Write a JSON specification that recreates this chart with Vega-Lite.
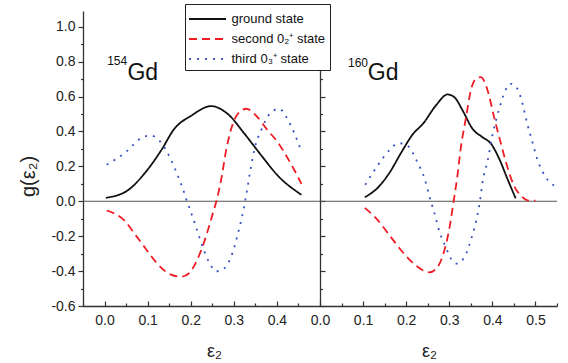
{
  "$schema": "https://vega.github.io/schema/vega-lite/v6.json",
  "autosize": {"type": "pad"},
  "padding": {"left": 18, "top": 3, "right": 11, "bottom": 0},
  "spacing": 0,
  "bounds": "flush",
  "config": {
    "view": {"stroke": null},
    "concat": {"spacing": 0},
    "font": "Liberation Sans",
    "locale": {"number": {"decimal": ".", "thousands": ",", "grouping": [3], "currency": ["$", ""], "minus": "-"}},
    "axis": {
      "domainColor": "#333", "domainWidth": 1.3, "tickColor": "#333", "tickWidth": 1.2,
      "labelFont": "Liberation Sans", "labelFontSize": 14, "labelColor": "#222",
      "titleFont": "Liberation Sans", "titleFontWeight": "normal", "titleColor": "#222",
      "grid": false, "labelFlush": false, "labelOverlap": false, "labelBound": false, "tickCount": 100
    },
    "legend": {"labelFont": "Liberation Sans"}
  },
  "datasets": {
    "curves": [
      {"nucleus": "154Gd", "state": "ground state", "eps": 0.003, "g": 0.02},
      {"nucleus": "154Gd", "state": "ground state", "eps": 0.053, "g": 0.061},
      {"nucleus": "154Gd", "state": "ground state", "eps": 0.092, "g": 0.157},
      {"nucleus": "154Gd", "state": "ground state", "eps": 0.131, "g": 0.29},
      {"nucleus": "154Gd", "state": "ground state", "eps": 0.162, "g": 0.415},
      {"nucleus": "154Gd", "state": "ground state", "eps": 0.201, "g": 0.49},
      {"nucleus": "154Gd", "state": "ground state", "eps": 0.247, "g": 0.545},
      {"nucleus": "154Gd", "state": "ground state", "eps": 0.286, "g": 0.5},
      {"nucleus": "154Gd", "state": "ground state", "eps": 0.325, "g": 0.386},
      {"nucleus": "154Gd", "state": "ground state", "eps": 0.364, "g": 0.262},
      {"nucleus": "154Gd", "state": "ground state", "eps": 0.402, "g": 0.147},
      {"nucleus": "154Gd", "state": "ground state", "eps": 0.457, "g": 0.037},

      {"nucleus": "154Gd", "state": "second 0₂⁺ state", "eps": 0.005, "g": -0.053},
      {"nucleus": "154Gd", "state": "second 0₂⁺ state", "eps": 0.046, "g": -0.11},
      {"nucleus": "154Gd", "state": "second 0₂⁺ state", "eps": 0.073, "g": -0.197},
      {"nucleus": "154Gd", "state": "second 0₂⁺ state", "eps": 0.096, "g": -0.273},
      {"nucleus": "154Gd", "state": "second 0₂⁺ state", "eps": 0.123, "g": -0.359},
      {"nucleus": "154Gd", "state": "second 0₂⁺ state", "eps": 0.154, "g": -0.42},
      {"nucleus": "154Gd", "state": "second 0₂⁺ state", "eps": 0.178, "g": -0.432},
      {"nucleus": "154Gd", "state": "second 0₂⁺ state", "eps": 0.197, "g": -0.41},
      {"nucleus": "154Gd", "state": "second 0₂⁺ state", "eps": 0.216, "g": -0.33},
      {"nucleus": "154Gd", "state": "second 0₂⁺ state", "eps": 0.236, "g": -0.197},
      {"nucleus": "154Gd", "state": "second 0₂⁺ state", "eps": 0.251, "g": -0.072},
      {"nucleus": "154Gd", "state": "second 0₂⁺ state", "eps": 0.261, "g": 0.014},
      {"nucleus": "154Gd", "state": "second 0₂⁺ state", "eps": 0.271, "g": 0.128},
      {"nucleus": "154Gd", "state": "second 0₂⁺ state", "eps": 0.282, "g": 0.29},
      {"nucleus": "154Gd", "state": "second 0₂⁺ state", "eps": 0.294, "g": 0.415},
      {"nucleus": "154Gd", "state": "second 0₂⁺ state", "eps": 0.309, "g": 0.5},
      {"nucleus": "154Gd", "state": "second 0₂⁺ state", "eps": 0.329, "g": 0.53},
      {"nucleus": "154Gd", "state": "second 0₂⁺ state", "eps": 0.352, "g": 0.49},
      {"nucleus": "154Gd", "state": "second 0₂⁺ state", "eps": 0.379, "g": 0.405},
      {"nucleus": "154Gd", "state": "second 0₂⁺ state", "eps": 0.402, "g": 0.338},
      {"nucleus": "154Gd", "state": "second 0₂⁺ state", "eps": 0.426, "g": 0.243},
      {"nucleus": "154Gd", "state": "second 0₂⁺ state", "eps": 0.441, "g": 0.176},
      {"nucleus": "154Gd", "state": "second 0₂⁺ state", "eps": 0.457, "g": 0.1},

      {"nucleus": "154Gd", "state": "third 0₃⁺ state", "eps": 0.005, "g": 0.209},
      {"nucleus": "154Gd", "state": "third 0₃⁺ state", "eps": 0.046, "g": 0.275},
      {"nucleus": "154Gd", "state": "third 0₃⁺ state", "eps": 0.085, "g": 0.361},
      {"nucleus": "154Gd", "state": "third 0₃⁺ state", "eps": 0.106, "g": 0.377},
      {"nucleus": "154Gd", "state": "third 0₃⁺ state", "eps": 0.127, "g": 0.348},
      {"nucleus": "154Gd", "state": "third 0₃⁺ state", "eps": 0.152, "g": 0.249},
      {"nucleus": "154Gd", "state": "third 0₃⁺ state", "eps": 0.17, "g": 0.147},
      {"nucleus": "154Gd", "state": "third 0₃⁺ state", "eps": 0.185, "g": 0.048},
      {"nucleus": "154Gd", "state": "third 0₃⁺ state", "eps": 0.192, "g": -0.006},
      {"nucleus": "154Gd", "state": "third 0₃⁺ state", "eps": 0.199, "g": -0.053},
      {"nucleus": "154Gd", "state": "third 0₃⁺ state", "eps": 0.213, "g": -0.153},
      {"nucleus": "154Gd", "state": "third 0₃⁺ state", "eps": 0.226, "g": -0.25},
      {"nucleus": "154Gd", "state": "third 0₃⁺ state", "eps": 0.243, "g": -0.35},
      {"nucleus": "154Gd", "state": "third 0₃⁺ state", "eps": 0.259, "g": -0.401},
      {"nucleus": "154Gd", "state": "third 0₃⁺ state", "eps": 0.278, "g": -0.384},
      {"nucleus": "154Gd", "state": "third 0₃⁺ state", "eps": 0.298, "g": -0.288},
      {"nucleus": "154Gd", "state": "third 0₃⁺ state", "eps": 0.309, "g": -0.191},
      {"nucleus": "154Gd", "state": "third 0₃⁺ state", "eps": 0.319, "g": -0.088},
      {"nucleus": "154Gd", "state": "third 0₃⁺ state", "eps": 0.327, "g": 0.01},
      {"nucleus": "154Gd", "state": "third 0₃⁺ state", "eps": 0.337, "g": 0.157},
      {"nucleus": "154Gd", "state": "third 0₃⁺ state", "eps": 0.348, "g": 0.3},
      {"nucleus": "154Gd", "state": "third 0₃⁺ state", "eps": 0.364, "g": 0.41},
      {"nucleus": "154Gd", "state": "third 0₃⁺ state", "eps": 0.383, "g": 0.5},
      {"nucleus": "154Gd", "state": "third 0₃⁺ state", "eps": 0.405, "g": 0.53},
      {"nucleus": "154Gd", "state": "third 0₃⁺ state", "eps": 0.422, "g": 0.482},
      {"nucleus": "154Gd", "state": "third 0₃⁺ state", "eps": 0.441, "g": 0.386},
      {"nucleus": "154Gd", "state": "third 0₃⁺ state", "eps": 0.457, "g": 0.285},

      {"nucleus": "160Gd", "state": "ground state", "eps": 0.104, "g": 0.023},
      {"nucleus": "160Gd", "state": "ground state", "eps": 0.135, "g": 0.08},
      {"nucleus": "160Gd", "state": "ground state", "eps": 0.162, "g": 0.166},
      {"nucleus": "160Gd", "state": "ground state", "eps": 0.189, "g": 0.281},
      {"nucleus": "160Gd", "state": "ground state", "eps": 0.216, "g": 0.386},
      {"nucleus": "160Gd", "state": "ground state", "eps": 0.239, "g": 0.444},
      {"nucleus": "160Gd", "state": "ground state", "eps": 0.269, "g": 0.549},
      {"nucleus": "160Gd", "state": "ground state", "eps": 0.296, "g": 0.612},
      {"nucleus": "160Gd", "state": "ground state", "eps": 0.312, "g": 0.596},
      {"nucleus": "160Gd", "state": "ground state", "eps": 0.331, "g": 0.52},
      {"nucleus": "160Gd", "state": "ground state", "eps": 0.354, "g": 0.415},
      {"nucleus": "160Gd", "state": "ground state", "eps": 0.377, "g": 0.367},
      {"nucleus": "160Gd", "state": "ground state", "eps": 0.397, "g": 0.329},
      {"nucleus": "160Gd", "state": "ground state", "eps": 0.416, "g": 0.243},
      {"nucleus": "160Gd", "state": "ground state", "eps": 0.435, "g": 0.128},
      {"nucleus": "160Gd", "state": "ground state", "eps": 0.454, "g": 0.017},

      {"nucleus": "160Gd", "state": "second 0₂⁺ state", "eps": 0.104, "g": -0.038},
      {"nucleus": "160Gd", "state": "second 0₂⁺ state", "eps": 0.131, "g": -0.1},
      {"nucleus": "160Gd", "state": "second 0₂⁺ state", "eps": 0.162, "g": -0.197},
      {"nucleus": "160Gd", "state": "second 0₂⁺ state", "eps": 0.192, "g": -0.292},
      {"nucleus": "160Gd", "state": "second 0₂⁺ state", "eps": 0.223, "g": -0.369},
      {"nucleus": "160Gd", "state": "second 0₂⁺ state", "eps": 0.254, "g": -0.407},
      {"nucleus": "160Gd", "state": "second 0₂⁺ state", "eps": 0.269, "g": -0.388},
      {"nucleus": "160Gd", "state": "second 0₂⁺ state", "eps": 0.285, "g": -0.311},
      {"nucleus": "160Gd", "state": "second 0₂⁺ state", "eps": 0.3, "g": -0.158},
      {"nucleus": "160Gd", "state": "second 0₂⁺ state", "eps": 0.311, "g": 0.014},
      {"nucleus": "160Gd", "state": "second 0₂⁺ state", "eps": 0.318, "g": 0.13},
      {"nucleus": "160Gd", "state": "second 0₂⁺ state", "eps": 0.327, "g": 0.31},
      {"nucleus": "160Gd", "state": "second 0₂⁺ state", "eps": 0.339, "g": 0.482},
      {"nucleus": "160Gd", "state": "second 0₂⁺ state", "eps": 0.35, "g": 0.635},
      {"nucleus": "160Gd", "state": "second 0₂⁺ state", "eps": 0.362, "g": 0.702},
      {"nucleus": "160Gd", "state": "second 0₂⁺ state", "eps": 0.373, "g": 0.711},
      {"nucleus": "160Gd", "state": "second 0₂⁺ state", "eps": 0.389, "g": 0.635},
      {"nucleus": "160Gd", "state": "second 0₂⁺ state", "eps": 0.404, "g": 0.482},
      {"nucleus": "160Gd", "state": "second 0₂⁺ state", "eps": 0.42, "g": 0.329},
      {"nucleus": "160Gd", "state": "second 0₂⁺ state", "eps": 0.435, "g": 0.195},
      {"nucleus": "160Gd", "state": "second 0₂⁺ state", "eps": 0.45, "g": 0.09},
      {"nucleus": "160Gd", "state": "second 0₂⁺ state", "eps": 0.466, "g": 0.033},
      {"nucleus": "160Gd", "state": "second 0₂⁺ state", "eps": 0.485, "g": 0.004},
      {"nucleus": "160Gd", "state": "second 0₂⁺ state", "eps": 0.5, "g": 0.004},

      {"nucleus": "160Gd", "state": "third 0₃⁺ state", "eps": 0.105, "g": 0.094},
      {"nucleus": "160Gd", "state": "third 0₃⁺ state", "eps": 0.131, "g": 0.195},
      {"nucleus": "160Gd", "state": "third 0₃⁺ state", "eps": 0.162, "g": 0.295},
      {"nucleus": "160Gd", "state": "third 0₃⁺ state", "eps": 0.182, "g": 0.333},
      {"nucleus": "160Gd", "state": "third 0₃⁺ state", "eps": 0.202, "g": 0.32},
      {"nucleus": "160Gd", "state": "third 0₃⁺ state", "eps": 0.226, "g": 0.224},
      {"nucleus": "160Gd", "state": "third 0₃⁺ state", "eps": 0.243, "g": 0.128},
      {"nucleus": "160Gd", "state": "third 0₃⁺ state", "eps": 0.254, "g": 0.027},
      {"nucleus": "160Gd", "state": "third 0₃⁺ state", "eps": 0.266, "g": -0.072},
      {"nucleus": "160Gd", "state": "third 0₃⁺ state", "eps": 0.277, "g": -0.172},
      {"nucleus": "160Gd", "state": "third 0₃⁺ state", "eps": 0.293, "g": -0.269},
      {"nucleus": "160Gd", "state": "third 0₃⁺ state", "eps": 0.302, "g": -0.321},
      {"nucleus": "160Gd", "state": "third 0₃⁺ state", "eps": 0.318, "g": -0.357},
      {"nucleus": "160Gd", "state": "third 0₃⁺ state", "eps": 0.336, "g": -0.317},
      {"nucleus": "160Gd", "state": "third 0₃⁺ state", "eps": 0.351, "g": -0.215},
      {"nucleus": "160Gd", "state": "third 0₃⁺ state", "eps": 0.362, "g": -0.116},
      {"nucleus": "160Gd", "state": "third 0₃⁺ state", "eps": 0.37, "g": -0.019},
      {"nucleus": "160Gd", "state": "third 0₃⁺ state", "eps": 0.378, "g": 0.12},
      {"nucleus": "160Gd", "state": "third 0₃⁺ state", "eps": 0.389, "g": 0.233},
      {"nucleus": "160Gd", "state": "third 0₃⁺ state", "eps": 0.4, "g": 0.377},
      {"nucleus": "160Gd", "state": "third 0₃⁺ state", "eps": 0.416, "g": 0.53},
      {"nucleus": "160Gd", "state": "third 0₃⁺ state", "eps": 0.429, "g": 0.629},
      {"nucleus": "160Gd", "state": "third 0₃⁺ state", "eps": 0.443, "g": 0.673},
      {"nucleus": "160Gd", "state": "third 0₃⁺ state", "eps": 0.458, "g": 0.645},
      {"nucleus": "160Gd", "state": "third 0₃⁺ state", "eps": 0.47, "g": 0.558},
      {"nucleus": "160Gd", "state": "third 0₃⁺ state", "eps": 0.481, "g": 0.444},
      {"nucleus": "160Gd", "state": "third 0₃⁺ state", "eps": 0.493, "g": 0.338},
      {"nucleus": "160Gd", "state": "third 0₃⁺ state", "eps": 0.504, "g": 0.243},
      {"nucleus": "160Gd", "state": "third 0₃⁺ state", "eps": 0.524, "g": 0.138},
      {"nucleus": "160Gd", "state": "third 0₃⁺ state", "eps": 0.547, "g": 0.084}
    ],
    "labels": [
      {"nucleus": "154Gd", "part": "mass", "t": "154", "eps": 0.006, "g": 0.778},
      {"nucleus": "154Gd", "part": "sym", "t": "Gd", "eps": 0.053, "g": 0.696},
      {"nucleus": "160Gd", "part": "mass", "t": "160", "eps": 0.065, "g": 0.768},
      {"nucleus": "160Gd", "part": "sym", "t": "Gd", "eps": 0.111, "g": 0.692}
    ]
  },
  "hconcat": [
    {
      "width": 237,
      "height": 295,
      "layer": [
        {
          "mark": {"type": "rule", "color": "#555", "strokeWidth": 1.2},
          "data": {"values": [{}]},
          "encoding": {"y": {"datum": 0, "type": "quantitative"}}
        },
        {
          "data": {"name": "curves"},
          "transform": [{"filter": "datum.nucleus == '154Gd'"}],
          "mark": {"type": "line", "interpolate": "monotone", "strokeWidth": 1.8},
          "encoding": {
            "x": {
              "field": "eps", "type": "quantitative",
              "scale": {"domain": [-0.05, 0.5], "nice": false, "zero": false},
              "axis": {
                "values": [-0.05, 0, 0.05, 0.1, 0.15, 0.2, 0.25, 0.3, 0.35, 0.4, 0.45],
                "tickCount": 100,
                "labelExpr": "round(datum.value*20) % 2 == 0 ? format(datum.value, '.1f') : ''",
                "tickSize": -5,
                "tickDash": {"condition": {"test": "round(datum.value*20) % 2 != 0", "value": [3, 20]}, "value": [10, 0]},
                "labelPadding": 12, "labelOverlap": false,
                "title": "ε₂", "titleFontSize": 18, "titleX": 131, "titleY": 50,
                "titleBaseline": "alphabetic", "titleAlign": "center"
              }
            },
            "y": {
              "field": "g", "type": "quantitative",
              "scale": {"domain": [-0.6, 1.09], "nice": false, "zero": false},
              "axis": {
                "values": [-0.6, -0.5, -0.4, -0.3, -0.2, -0.1, 0, 0.1, 0.2, 0.3, 0.4, 0.5, 0.6, 0.7, 0.8, 0.9, 1.0],
                "tickCount": 100,
                "labelExpr": "round(datum.value*10) % 2 == 0 ? format(datum.value, '.1f') : ''",
                "tickSize": 5,
                "tickDash": {"condition": {"test": "round(datum.value*10) % 2 != 0", "value": [2.5, 20]}, "value": [10, 0]},
                "labelPadding": 3, "labelOverlap": false,
                "title": "g(ε₂)", "titleFontSize": 20, "titleX": -55, "titleY": 165,
                "titleAngle": -90, "titleBaseline": "middle", "titleAlign": "center"
              }
            },
            "color": {
              "field": "state", "type": "nominal",
              "scale": {"domain": ["ground state", "second 0₂⁺ state", "third 0₃⁺ state"], "range": ["#111111", "#ee1c25", "#3a50c0"]},
              "legend": {
                "orient": "none", "legendX": 102, "legendY": -7, "title": null,
                "symbolType": "M-1.85,0L1.85,0", "symbolSize": 400, "symbolStrokeWidth": 1.8,
                "symbolOffset": 7.5,
                "labelFontSize": 13, "labelOffset": 13, "padding": 4, "rowPadding": 2,
                "strokeColor": "#222", "fillColor": "white", "labelColor": "#111"
              }
            },
            "strokeDash": {
              "field": "state", "type": "nominal",
              "scale": {"domain": ["ground state", "second 0₂⁺ state", "third 0₃⁺ state"], "range": [[1, 0], [8, 5], [2, 6]]},
              "legend": {
                "orient": "none", "legendX": 102, "legendY": -7, "title": null,
                "symbolType": "M-1.85,0L1.85,0", "symbolSize": 400, "symbolStrokeWidth": 1.8,
                "symbolOffset": 7.5,
                "labelFontSize": 13, "labelOffset": 13, "padding": 4, "rowPadding": 2,
                "strokeColor": "#222", "fillColor": "white", "labelColor": "#111"
              }
            }
          }
        },
        {
          "data": {"name": "labels"},
          "transform": [{"filter": "datum.nucleus == '154Gd' && datum.part == 'mass'"}],
          "mark": {"type": "text", "align": "left", "baseline": "alphabetic", "fontSize": 12, "color": "#111"},
          "encoding": {
            "x": {"field": "eps", "type": "quantitative"},
            "y": {"field": "g", "type": "quantitative"},
            "text": {"field": "t"}
          }
        },
        {
          "data": {"name": "labels"},
          "transform": [{"filter": "datum.nucleus == '154Gd' && datum.part == 'sym'"}],
          "mark": {"type": "text", "align": "left", "baseline": "alphabetic", "fontSize": 23, "color": "#111"},
          "encoding": {
            "x": {"field": "eps", "type": "quantitative"},
            "y": {"field": "g", "type": "quantitative"},
            "text": {"field": "t"}
          }
        }
      ]
    },
    {
      "width": 237,
      "height": 295,
      "layer": [
        {
          "mark": {"type": "rule", "color": "#555", "strokeWidth": 1.2},
          "data": {"values": [{}]},
          "encoding": {"y": {"datum": 0, "type": "quantitative"}}
        },
        {
          "data": {"name": "curves"},
          "transform": [{"filter": "datum.nucleus == '160Gd'"}],
          "mark": {"type": "line", "interpolate": "monotone", "strokeWidth": 1.8},
          "encoding": {
            "x": {
              "field": "eps", "type": "quantitative",
              "scale": {"domain": [0, 0.55], "nice": false, "zero": false},
              "axis": {
                "values": [0, 0.05, 0.1, 0.15, 0.2, 0.25, 0.3, 0.35, 0.4, 0.45, 0.5, 0.55],
                "tickCount": 100,
                "labelExpr": "round(datum.value*20) % 2 == 0 ? format(datum.value, '.1f') : ''",
                "tickSize": -5,
                "tickDash": {"condition": {"test": "round(datum.value*20) % 2 != 0", "value": [3, 20]}, "value": [10, 0]},
                "labelPadding": 12, "labelOverlap": false,
                "title": "ε₂", "titleFontSize": 18, "titleX": 109, "titleY": 50,
                "titleBaseline": "alphabetic", "titleAlign": "center"
              }
            },
            "y": {
              "field": "g", "type": "quantitative",
              "scale": {"domain": [-0.6, 1.09], "nice": false, "zero": false},
              "axis": {
                "values": [-0.6, -0.5, -0.4, -0.3, -0.2, -0.1, 0, 0.1, 0.2, 0.3, 0.4, 0.5, 0.6, 0.7, 0.8, 0.9, 1.0],
                "tickCount": 100,
                "labels": false,
                "tickSize": -5,
                "tickDash": {"condition": {"test": "round(datum.value*10) % 2 != 0", "value": [2.5, 20]}, "value": [10, 0]},
                "title": null
              }
            },
            "color": {
              "field": "state", "type": "nominal",
              "scale": {"domain": ["ground state", "second 0₂⁺ state", "third 0₃⁺ state"], "range": ["#111111", "#ee1c25", "#3a50c0"]},
              "legend": null
            },
            "strokeDash": {
              "field": "state", "type": "nominal",
              "scale": {"domain": ["ground state", "second 0₂⁺ state", "third 0₃⁺ state"], "range": [[1, 0], [8, 5], [2, 6]]},
              "legend": null
            }
          }
        },
        {
          "data": {"name": "labels"},
          "transform": [{"filter": "datum.nucleus == '160Gd' && datum.part == 'mass'"}],
          "mark": {"type": "text", "align": "left", "baseline": "alphabetic", "fontSize": 12, "color": "#111"},
          "encoding": {
            "x": {"field": "eps", "type": "quantitative"},
            "y": {"field": "g", "type": "quantitative"},
            "text": {"field": "t"}
          }
        },
        {
          "data": {"name": "labels"},
          "transform": [{"filter": "datum.nucleus == '160Gd' && datum.part == 'sym'"}],
          "mark": {"type": "text", "align": "left", "baseline": "alphabetic", "fontSize": 23, "color": "#111"},
          "encoding": {
            "x": {"field": "eps", "type": "quantitative"},
            "y": {"field": "g", "type": "quantitative"},
            "text": {"field": "t"}
          }
        }
      ]
    }
  ]
}
